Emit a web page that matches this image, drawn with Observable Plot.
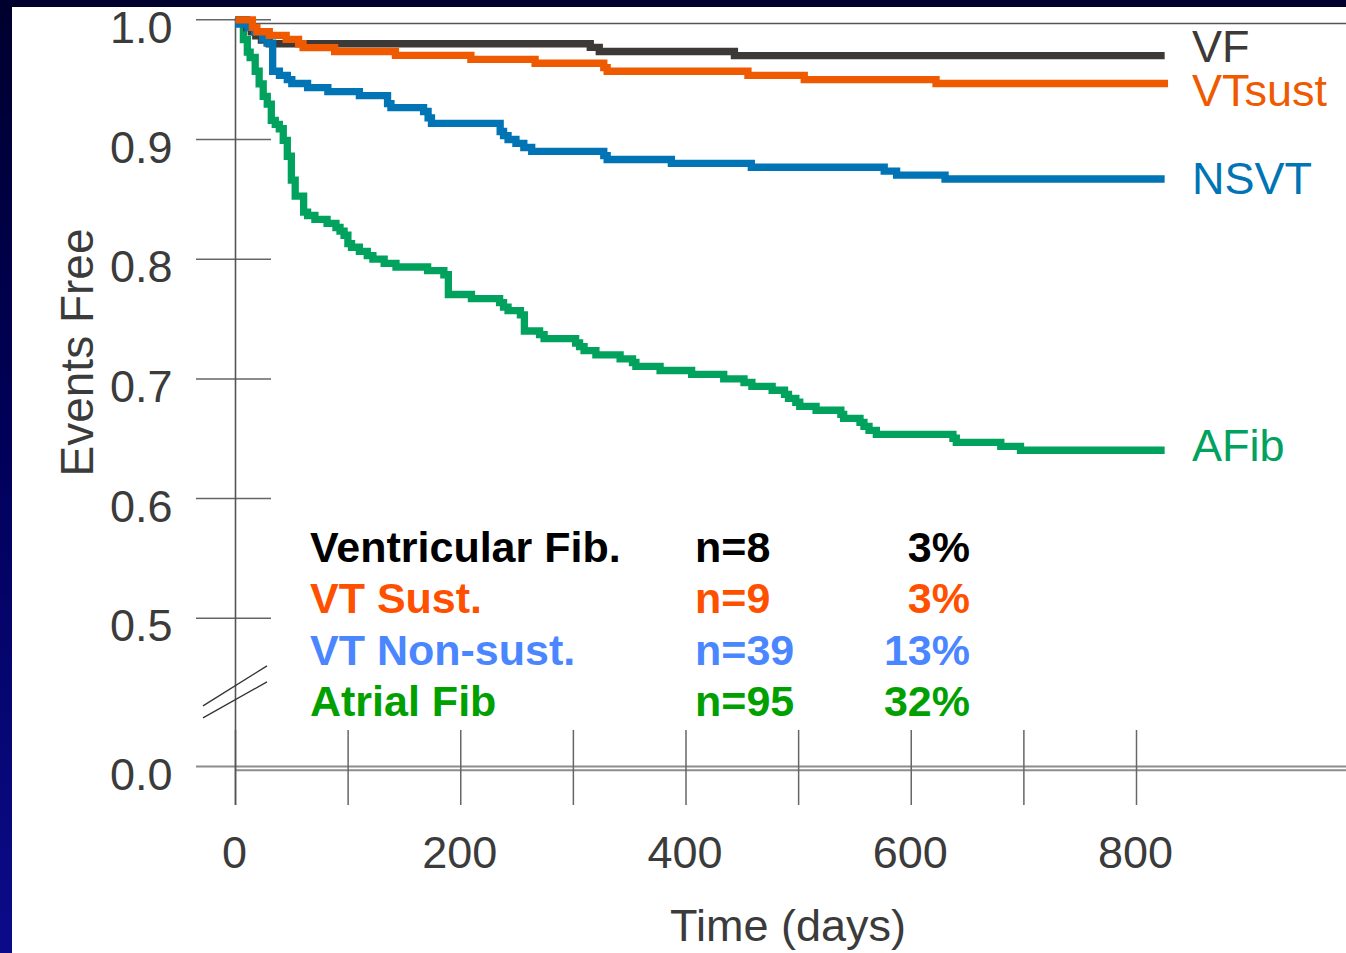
<!DOCTYPE html>
<html>
<head>
<meta charset="utf-8">
<script src="https://cdn.jsdelivr.net/npm/d3@7"></script>
<script src="https://cdn.jsdelivr.net/npm/@observablehq/plot@0.6"></script>
<style>
  html, body { margin: 0; padding: 0; width: 1346px; height: 953px; overflow: hidden; }
  body { background: linear-gradient(to bottom, #00002e 0%, #000058 45%, #0b0b8a 100%); position: relative; }
  #panel { position: absolute; left: 12px; top: 7px; right: 0; bottom: 0; background: #ffffff; }
  #chart { position: absolute; left: 0; top: 0; }
  #legend { position: absolute; left: 0; top: 0; width: 1346px; height: 953px; pointer-events: none;
            font-family: "Liberation Sans", Arial, Helvetica, sans-serif; font-weight: bold; font-size: 43px; }
  .row { position: absolute; left: 0; width: 1346px; height: 51.3px; line-height: 51.3px; white-space: nowrap; }
  .row span { position: absolute; top: 0; }
  .row .nm { left: 310px; }
  .row .nn { left: 695px; }
  .row .pc { left: 820px; width: 150px; text-align: right; }
</style>
</head>
<body>
<div id="panel"></div>
<div id="chart"></div>
<div id="legend"></div>
<script>
// ---------------- data ----------------
const seriesNames = ["VF", "VTsust", "NSVT", "AFib"];

const vfDays = [0, 10, 14, 18, 23, 30, 315, 323, 443, 825];
const vfFree = [1.0, 0.9935, 0.990, 0.9865, 0.983, 0.980, 0.977, 0.9735, 0.970, 0.970];

const vtsDays = [0, 15, 19, 30, 45, 56, 60, 88, 142, 209, 266, 327, 330, 455, 505, 622, 828];
const vtsFree = [1.0, 0.9936, 0.990, 0.987, 0.9837, 0.980, 0.9768, 0.9735, 0.9703, 0.967, 0.9637, 0.960, 0.957, 0.9536, 0.950, 0.9468, 0.9468];

const nsvtDays = [0, 3, 11, 17, 24, 28, 33, 39, 46, 50, 64, 82, 110, 135, 138, 167, 171, 174, 235, 238, 242, 249, 256, 263, 327, 330, 387, 458, 576, 587, 630, 825];
const nsvtFree = [1.0, 0.9965, 0.9936, 0.990, 0.984, 0.9805, 0.957, 0.9536, 0.950, 0.9468, 0.9434, 0.940, 0.9367, 0.930, 0.9267, 0.9234, 0.918, 0.9134, 0.9067, 0.9033, 0.900, 0.8967, 0.8933, 0.890, 0.8866, 0.8833, 0.880, 0.8768, 0.8735, 0.8703, 0.867, 0.867];

const afibDays = [0, 7, 10.5, 13, 17.5, 21, 24.6, 28.2, 31.8, 35.3, 38.9, 42.4, 46, 49.6, 53, 60.5, 64, 70.5, 81.3, 89.2, 92.8, 96.4, 99.8, 103, 110, 117, 122, 132, 142.5, 170.6, 185, 189, 209.5, 234.5, 238, 242, 253, 256.5, 270, 274, 302, 305.5, 309.5, 320, 341.5, 352.5, 355.5, 377, 405, 433.5, 451.5, 458.5, 476.5, 487.5, 491, 497.5, 501, 515.5, 537.5, 540, 554.5, 558, 562.5, 569, 637, 640, 679.5, 697, 825];
const afibFree = [1.0, 0.9834, 0.973, 0.9685, 0.957, 0.9464, 0.936, 0.9295, 0.916, 0.9127, 0.909, 0.8993, 0.886, 0.866, 0.8527, 0.8393, 0.8365, 0.8332, 0.830, 0.8265, 0.8235, 0.820, 0.813, 0.810, 0.8065, 0.803, 0.800, 0.7965, 0.7935, 0.7905, 0.787, 0.7705, 0.767, 0.7638, 0.760, 0.757, 0.7535, 0.740, 0.737, 0.7337, 0.730, 0.727, 0.7237, 0.720, 0.7167, 0.7137, 0.7105, 0.707, 0.7037, 0.700, 0.697, 0.6937, 0.6905, 0.687, 0.6838, 0.6805, 0.677, 0.6738, 0.6704, 0.667, 0.6637, 0.6604, 0.657, 0.6537, 0.6504, 0.647, 0.6437, 0.6404, 0.6404];

const xTickValues = [0, 100, 200, 300, 400, 500, 600, 700, 800];
const xTickLabels = ["0", "200", "400", "600", "800"];
const yTickValues = [0.5, 0.6, 0.7, 0.8, 0.9, 1.0];
const yTickLabels = ["0.0", "0.5", "0.6", "0.7", "0.8", "0.9", "1.0"];

const legendNames = ["Ventricular Fib.", "VT Sust.", "VT Non-sust.", "Atrial Fib"];
const legendCounts = ["n=8", "n=9", "n=39", "n=95"];
const legendPercents = ["3%", "3%", "13%", "32%"];

const xTitle = "Time (days)";
const yTitle = "Events Free";

// ---------------- styles ----------------
const lineColors = {VF: "#3c3936", VTsust: "#ef5a00", NSVT: "#0074b4", AFib: "#00a25e"};
const legendColors = ["#000000", "#ff5000", "#4a86ff", "#00a000"];
const labelDy = {VF: -8, VTsust: 8.2, NSVT: 0.7, AFib: -3.6};
const drawOrder = ["AFib", "VF", "NSVT", "VTsust"];
const textGray = "#3b3b3b";
const FONT = '"Liberation Sans", Arial, Helvetica, sans-serif';

function rows(days, free) { return days.map((t, i) => ({t, v: free[i]})); }
const seriesData = {
  VF: rows(vfDays, vfFree),
  VTsust: rows(vtsDays, vtsFree),
  NSVT: rows(nsvtDays, nsvtFree),
  AFib: rows(afibDays, afibFree)
};
const maxEnd = d3.max(seriesNames, s => d3.max(seriesData[s], d => d.t));

// axis break marks (derived from the scales)
function axisBreak(index, scales) {
  const x = scales.x, y = scales.y;
  const cx = x(0), cy = (y(0) + y(0.5)) / 2;
  const g = d3.create("svg:g").attr("stroke", "#333").attr("stroke-width", 1.3).attr("fill", "none");
  g.append("line").attr("x1", cx - 32).attr("y1", cy + 14).attr("x2", cx + 32).attr("y2", cy - 26);
  g.append("line").attr("x1", cx - 32).attr("y1", cy + 26).attr("x2", cx + 32).attr("y2", cy - 10);
  return g.node();
}

const marks = [
  Plot.ruleY(yTickValues, {x1: 0, x2: 0, insetLeft: -39, insetRight: -36, stroke: "#666", strokeWidth: 1.5}),
  Plot.ruleY([0], {insetLeft: -39, stroke: "#8c8c8c", strokeWidth: 2}),
  Plot.ruleY([0], {dy: 3.7, stroke: "#8c8c8c", strokeWidth: 2}),
  Plot.ruleY([1], {dy: 3.8, stroke: "#555", strokeWidth: 1.5}),
  Plot.ruleX(xTickValues, {y1: 0, y2: 0, insetTop: -36, insetBottom: -39, stroke: "#666", strokeWidth: 1.5}),
  Plot.ruleX([0], {stroke: "#555", strokeWidth: 1.6}),
  axisBreak
];

for (const s of drawOrder) {
  marks.push(Plot.line(seriesData[s], {
    x: "t", y: "v", curve: "step-after", stroke: lineColors[s], strokeWidth: 7.3,
    strokeLinejoin: "miter", strokeLinecap: "butt", strokeMiterlimit: 10
  }));
}
for (const s of seriesNames) {
  const last = seriesData[s][seriesData[s].length - 1];
  marks.push(Plot.text([s], {
    x: () => maxEnd, y: () => last.v, text: d => d, dx: 24, dy: labelDy[s],
    textAnchor: "start", lineAnchor: "middle", fill: lineColors[s], fontSize: 45
  }));
}

marks.push(
  Plot.text(yTickLabels, {x: 0, y: d => +d, text: d => d, textAnchor: "end", lineAnchor: "middle", dx: -63, dy: 8.7, fontSize: 45, fill: textGray}),
  Plot.text(xTickLabels, {x: d => +d, frameAnchor: "bottom", text: d => d, textAnchor: "middle", lineAnchor: "middle", dx: -1, dy: 48.2, fontSize: 45, fill: textGray}),
  Plot.text([xTitle], {frameAnchor: "bottom", text: d => d, textAnchor: "middle", lineAnchor: "middle", dx: -3, dy: 120.6, fontSize: 45, fill: textGray}),
  Plot.text([yTitle], {frameAnchor: "left", text: d => d, rotate: -90, textAnchor: "middle", lineAnchor: "middle", dx: -157, dy: -59.5, fontSize: 46, fill: textGray})
);

const chart = Plot.plot({
  width: 1346,
  height: 953,
  marginLeft: 235,
  marginRight: 0,
  marginTop: 18,
  marginBottom: 148,
  x: {domain: [0, 800], range: [235, 1136], axis: null},
  y: {type: "linear", domain: [0, 0.5, 1], range: [766, 617.8, 19.3], axis: null},
  style: {background: "transparent", fontFamily: FONT, overflow: "visible"},
  marks
});
document.getElementById("chart").appendChild(chart);

// legend table
const legend = document.getElementById("legend");
legendNames.forEach((name, i) => {
  const row = document.createElement("div");
  row.className = "row";
  row.style.top = (522 + i * 51.3) + "px";
  row.style.color = legendColors[i];
  const a = document.createElement("span"); a.className = "nm"; a.textContent = name;
  const b = document.createElement("span"); b.className = "nn"; b.textContent = legendCounts[i];
  const c = document.createElement("span"); c.className = "pc"; c.textContent = legendPercents[i];
  row.append(a, b, c);
  legend.appendChild(row);
});
</script>
</body>
</html>
